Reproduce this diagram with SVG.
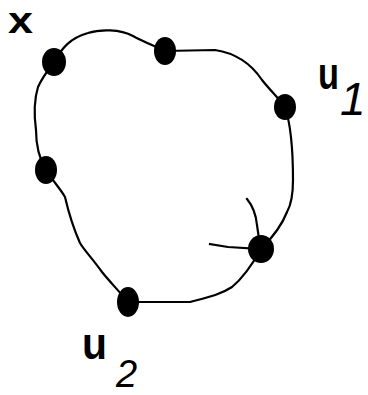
<svg xmlns="http://www.w3.org/2000/svg" width="368" height="395" viewBox="0 0 368 395">
<style>
.c{fill:none;stroke:#000;stroke-width:2.2;stroke-linecap:square;stroke-linejoin:round}
.n{fill:#000}
.lb{font-family:"Liberation Sans",Arial,sans-serif;font-weight:bold;fill:#000}
.sb{font-family:"Liberation Sans",Arial,sans-serif;font-style:italic;fill:#000}
</style>
<rect width="368" height="395" fill="#fff"/>
<g id="connectors">
<path class="c" d="M54,62 C62,48 70,38 88,33 C100,29 120,29 133,36 C142,41 152,45 165,51 L215,50 C235,53 250,62 262,80 C270,90 280,100 285,107 C291,125 293,150 293,180 C293,195 291,205 287,212 C282,225 272,238 261,249 C252,265 243,278 232,287 C220,295 205,298 190,302 L128,302 C118,290 110,282 102,272 C92,258 84,250 80,243 C72,225 68,210 65,197 C60,188 52,180 46,170 C40,160 36,145 36,130 C34,115 34,100 38,87 C42,78 48,70 54,62 Z"/>
<path class="c" d="M247,199 C252,205 256,215 257,225 C258,232 259,240 261,249"/>
<path class="c" d="M210,244 L228,247 L261,249"/>
</g>
<g id="node-x"><ellipse class="n" cx="54" cy="62" rx="12" ry="14"/></g>
<g id="node-top"><ellipse class="n" cx="165" cy="51" rx="11" ry="14"/></g>
<g id="node-u1"><ellipse class="n" cx="285" cy="107" rx="11" ry="13"/></g>
<g id="node-right"><ellipse class="n" cx="261" cy="249" rx="13" ry="14"/></g>
<g id="node-u2"><ellipse class="n" cx="128" cy="302" rx="11" ry="15"/></g>
<g id="node-left"><ellipse class="n" cx="46" cy="170" rx="11" ry="14"/></g>
<g id="labels">
<text class="lb" x="8" y="33" font-size="36" textLength="25" lengthAdjust="spacingAndGlyphs">x</text>
<text class="lb" x="318" y="89" font-size="44" textLength="21" lengthAdjust="spacingAndGlyphs">u</text>
<text class="sb" x="340" y="115" font-size="46">1</text>
<text class="lb" x="82" y="359" font-size="44" textLength="25" lengthAdjust="spacingAndGlyphs">u</text>
<text class="sb" x="116" y="387" font-size="38">2</text>
</g>
</svg>
